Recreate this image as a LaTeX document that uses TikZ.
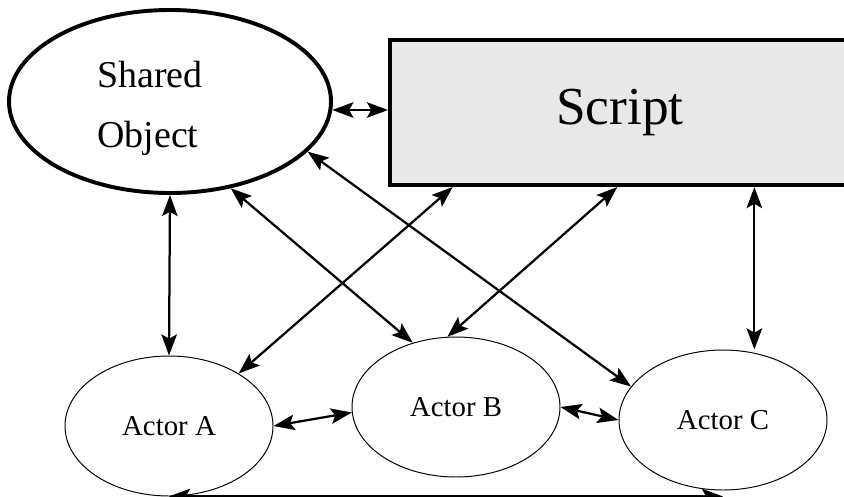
\documentclass[tikz,border=0pt]{standalone}
\usepackage{fontspec}
\setmainfont{Liberation Serif}
\usetikzlibrary{shapes.geometric,arrows.meta}
\begin{document}
\begin{tikzpicture}[
        actor/.style={draw, ellipse, line width=0.7pt, minimum width=5.2cm, minimum height=3.5cm, inner sep=0pt, font=\fontsize{20.5}{24}\selectfont},
        link/.style={{Stealth[length=15pt,width=11pt,inset=3pt]}-{Stealth[length=15pt,width=11pt,inset=3pt]}, line width=1.6pt}
    ]
        \useasboundingbox (0,0) rectangle (21.1,12.4);

        \node[name=obj, draw, ellipse, line width=2.8pt, minimum width=8.05cm, minimum height=4.575cm] at (4.25, 9.8625) {};
        \node[name=objtext, align=left, anchor=west, inner sep=0pt, font=\fontsize{27}{42.5}\selectfont] at (2.425, 9.69) {Shared\\Object};
        \node[name=script, draw, rectangle, line width=2.8pt, fill=black!9, minimum width=11.5cm, minimum height=3.625cm, font=\fontsize{38}{45}\selectfont] at (15.5, 9.5875) {Script};

        \foreach \id/\x/\y/\lbl in {actA/4.225/1.75/A, actB/11.4/2.225/B, actC/18.075/1.9/C}
            {
                \node[name=\id, actor] at (\x, \y) {Actor \lbl};
            }

        \draw[link] (obj.-3) -- (obj.-3 -| script.west);
        \draw[link] (obj.south) -- (actA.north);
        \draw[link] (obj.-55) -- (actB.124);
        \draw[link] (obj.-20) -- (actC.160);
        \draw[link] (script.-156) -- (actA.37);
        \draw[link] (script.-92) -- (actB.97);
        \draw[link] (script.-29) -- (script.-29 |- actC.north);
        \draw[link] (actA.east) -- (actB.183);
        \draw[link] (actB.east) -- (actC.west);
        \draw[link] (actA.south) -- (actC.south |- actA.south);
    \end{tikzpicture}
\end{document}
